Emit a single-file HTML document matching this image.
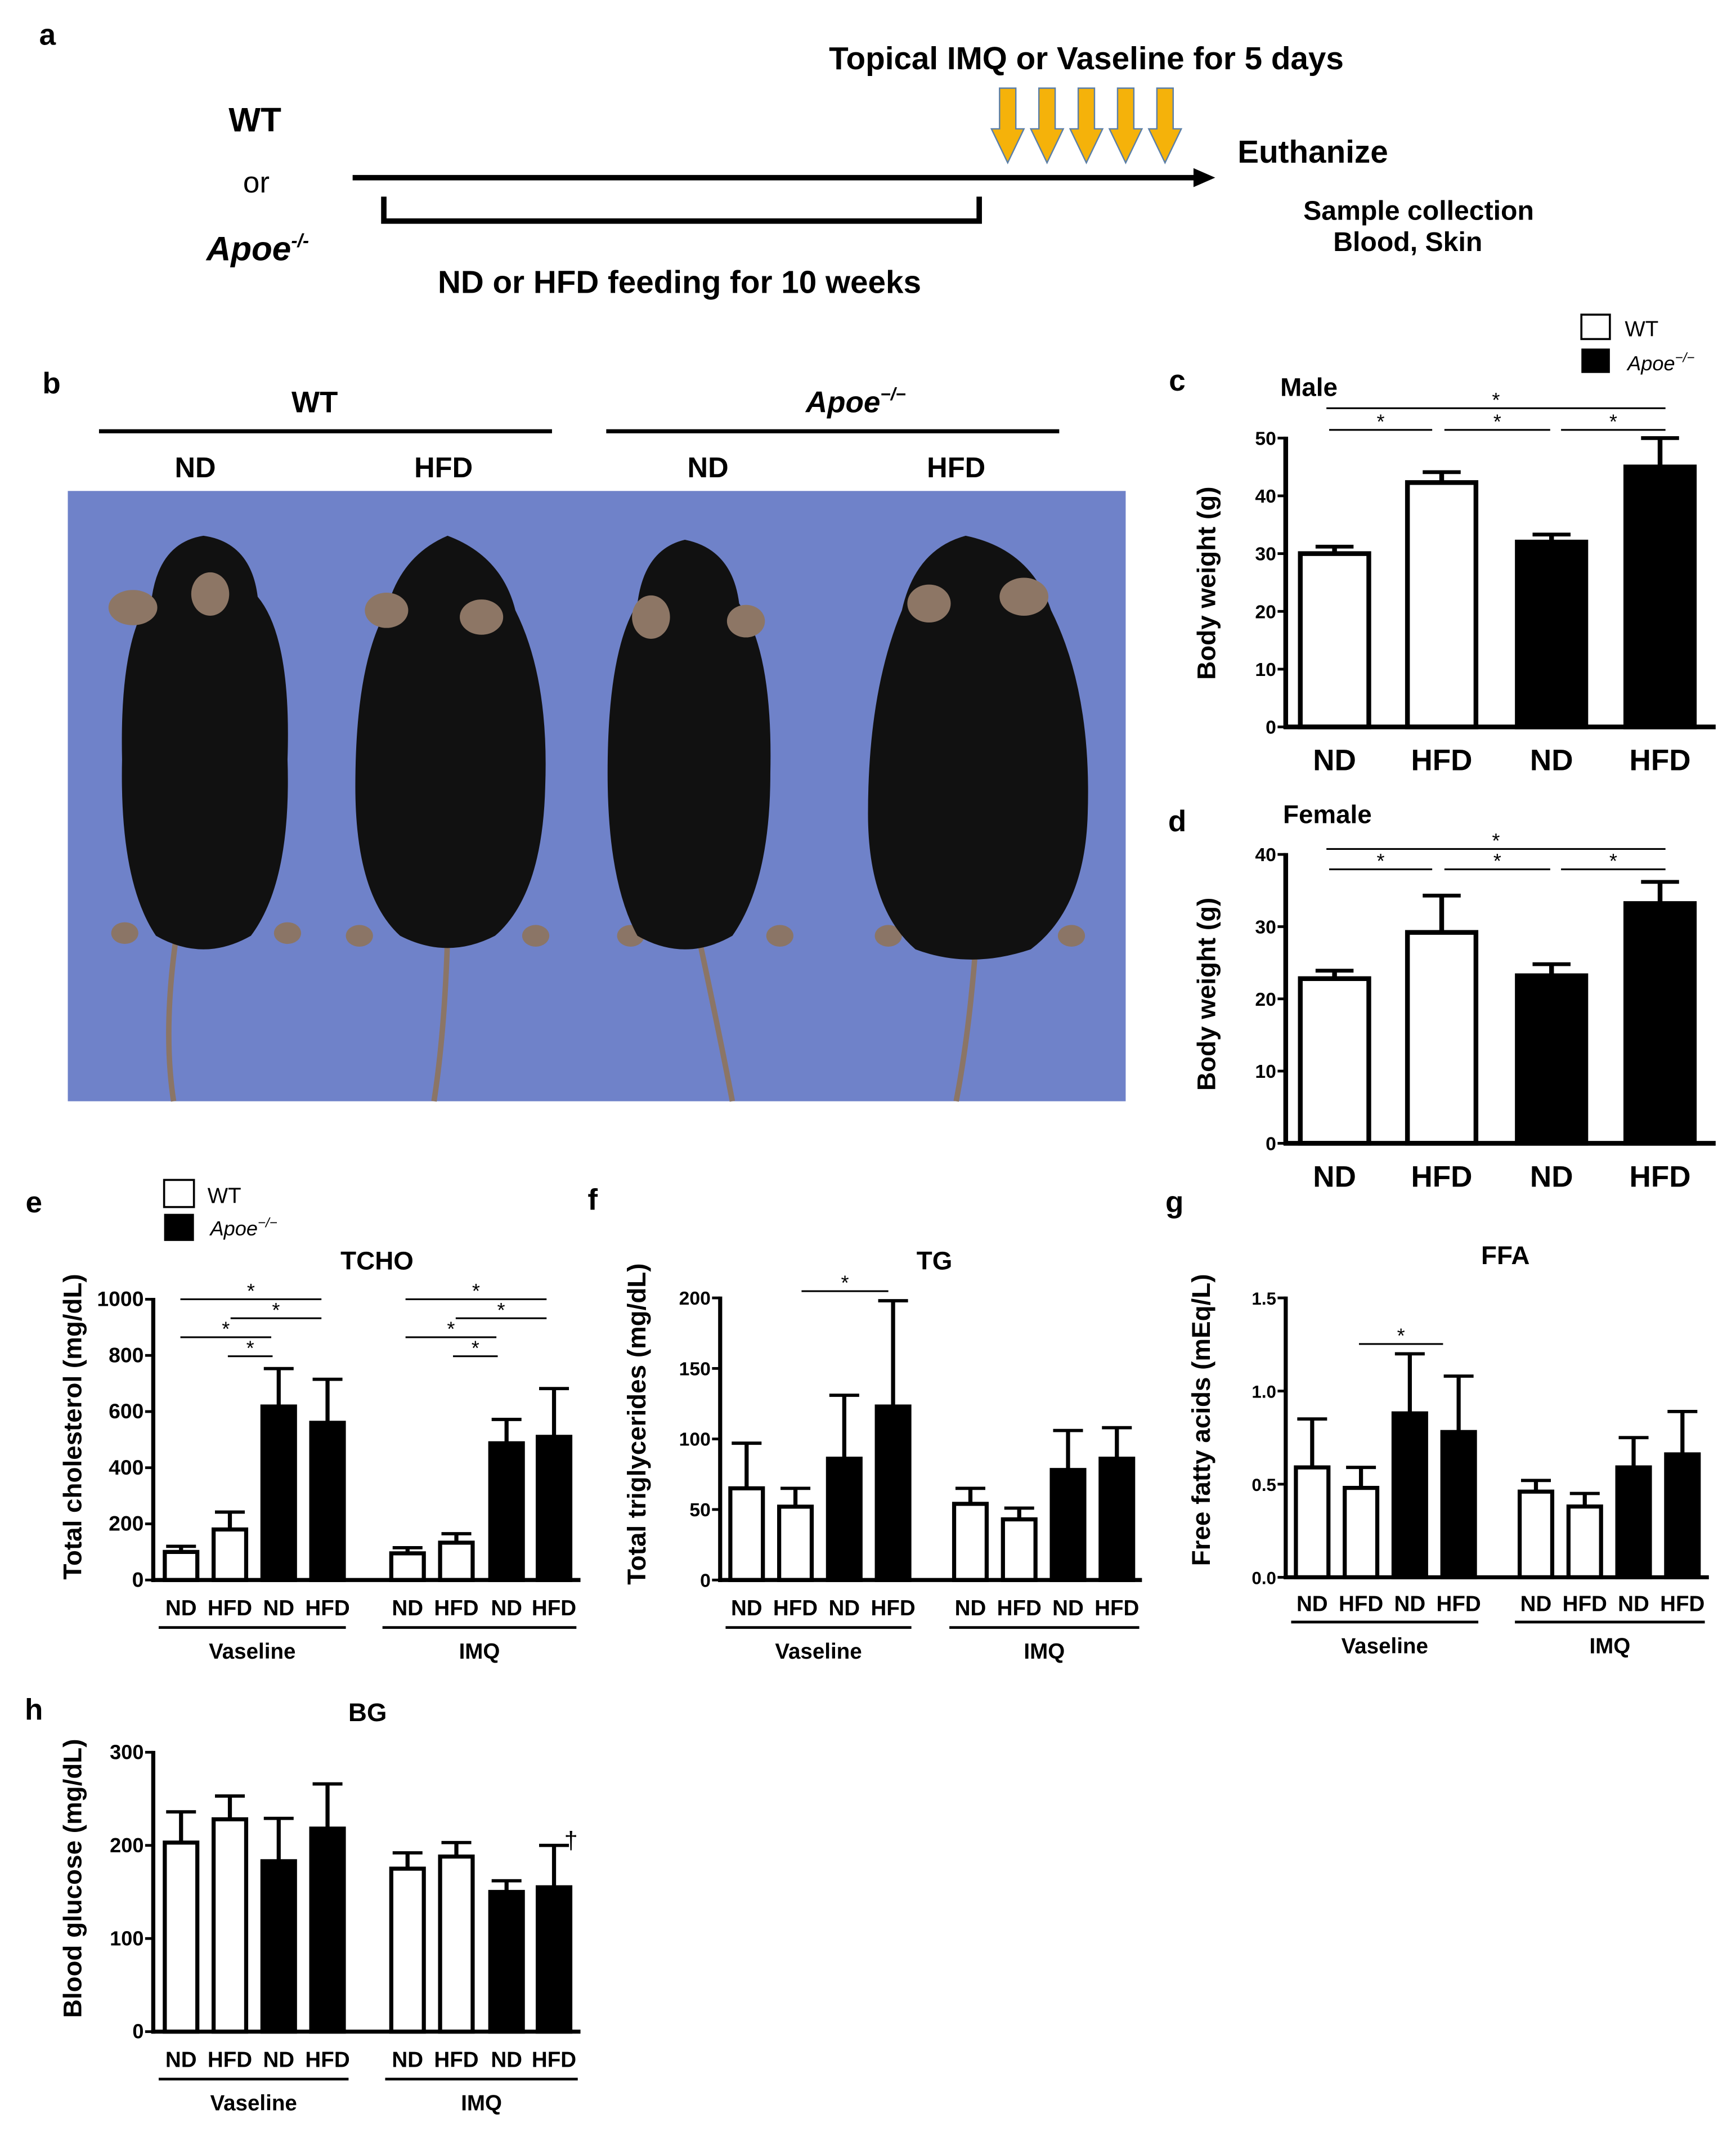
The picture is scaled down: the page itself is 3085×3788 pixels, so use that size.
<!DOCTYPE html>
<html><head><meta charset="utf-8">
<style>
html,body{margin:0;padding:0;background:#fff;}
svg{display:block;font-family:"Liberation Sans",Arial,sans-serif;}
</style></head>
<body>
<svg id="fig" width="3085" height="3788" viewBox="0 0 1280 1572" preserveAspectRatio="none" xmlns="http://www.w3.org/2000/svg">
<rect width="1280" height="1572" fill="#fff"/>
<!-- Panel a -->
<g font-weight="bold">
<text x="35" y="33" font-size="22" text-anchor="middle">a</text>
<text x="188" y="97" font-size="25" text-anchor="middle">WT</text>
<text x="189" y="142" font-size="22" font-weight="normal" text-anchor="middle">or</text>
<text x="190" y="192" font-size="25" font-style="italic" text-anchor="middle">Apoe<tspan font-size="14" dy="-10">-/-</tspan></text>
<line x1="260" y1="131" x2="882" y2="131" stroke="#000" stroke-width="4"/>
<polygon points="880,124 896,131 880,138" fill="#000"/>
<polyline points="283,145 283,163 722,163 722,145" fill="none" stroke="#000" stroke-width="4"/>
<text x="501" y="216" font-size="23.5" text-anchor="middle">ND or HFD feeding for 10 weeks</text>
<text x="801" y="51" font-size="23.5" text-anchor="middle">Topical IMQ or Vaseline for 5 days</text>
<g id="arrows"></g>
<text x="968" y="120" font-size="23.5" text-anchor="middle">Euthanize</text>
<text x="1046" y="162" font-size="20" text-anchor="middle">Sample collection</text>
<text x="1038" y="185" font-size="20" text-anchor="middle">Blood, Skin</text>
</g>
<!-- Panel b -->
<g font-weight="bold">
<text x="38" y="290" font-size="22" text-anchor="middle">b</text>
<text x="232" y="304" font-size="22" text-anchor="middle">WT</text>
<line x1="73" y1="318" x2="407" y2="318" stroke="#000" stroke-width="3"/>
<text x="631" y="304" font-size="22" font-style="italic" text-anchor="middle">Apoe<tspan font-size="13" dy="-9">−/−</tspan></text>
<line x1="447" y1="318" x2="781" y2="318" stroke="#000" stroke-width="3"/>
<text x="144" y="352" font-size="21" text-anchor="middle">ND</text>
<text x="327" y="352" font-size="21" text-anchor="middle">HFD</text>
<text x="522" y="352" font-size="21" text-anchor="middle">ND</text>
<text x="705" y="352" font-size="21" text-anchor="middle">HFD</text>
<rect x="50" y="362" width="780" height="450" fill="#6f82c9"/>
<g fill="none" stroke="#8b7566" stroke-width="4">
<path d="M130 690 Q120 760 128 812"/><path d="M330 690 Q328 760 320 812"/>
<path d="M515 690 Q530 760 540 812"/><path d="M720 690 Q715 760 705 812"/>
</g>
<g fill="#8b7566">
<ellipse cx="92" cy="688" rx="10" ry="8"/><ellipse cx="212" cy="688" rx="10" ry="8"/>
<ellipse cx="265" cy="690" rx="10" ry="8"/><ellipse cx="395" cy="690" rx="10" ry="8"/>
<ellipse cx="465" cy="690" rx="10" ry="8"/><ellipse cx="575" cy="690" rx="10" ry="8"/>
<ellipse cx="655" cy="690" rx="10" ry="8"/><ellipse cx="790" cy="690" rx="10" ry="8"/>
</g>
<g fill="#111">
<path d="M150 395 Q185 400 190 440 Q215 470 212 560 Q215 650 185 690 Q150 710 115 690 Q88 650 90 560 Q88 470 112 440 Q118 400 150 395Z"/>
<path d="M330 395 Q370 410 380 450 Q405 500 402 580 Q400 660 365 690 Q330 708 295 690 Q262 660 262 580 Q262 490 285 450 Q295 410 330 395Z"/>
<path d="M505 398 Q540 405 545 445 Q570 480 568 570 Q568 650 540 690 Q505 710 470 690 Q448 650 448 570 Q448 480 470 445 Q475 405 505 398Z"/>
<path d="M712 395 Q760 405 775 450 Q805 510 802 600 Q800 670 760 700 Q715 715 675 700 Q640 670 640 600 Q640 510 665 450 Q675 405 712 395Z"/>
</g>
<g fill="#8d7665">
<ellipse cx="98" cy="448" rx="18" ry="13"/><ellipse cx="155" cy="438" rx="14" ry="16"/>
<ellipse cx="285" cy="450" rx="16" ry="13"/><ellipse cx="355" cy="455" rx="16" ry="13"/>
<ellipse cx="480" cy="455" rx="14" ry="16"/><ellipse cx="550" cy="458" rx="14" ry="12"/>
<ellipse cx="685" cy="445" rx="16" ry="14"/><ellipse cx="755" cy="440" rx="18" ry="14"/>
</g>
</g>
<!-- legend top right -->
<g>
<rect x="1166" y="232" width="21" height="18" fill="#fff" stroke="#000" stroke-width="1.5"/>
<rect x="1166" y="257" width="21" height="18" fill="#000"/>
<text x="1198" y="248" font-size="16">WT</text>
<text x="1200" y="273" font-size="15" font-style="italic">Apoe<tspan font-size="10" dy="-6">−/−</tspan></text>
</g>
<!-- legend e -->
<g>
<rect x="121" y="870" width="22" height="20" fill="#fff" stroke="#000" stroke-width="1.5"/>
<rect x="121" y="895" width="22" height="20" fill="#000"/>
<text x="153" y="887" font-size="16">WT</text>
<text x="155" y="911" font-size="15" font-style="italic">Apoe<tspan font-size="10" dy="-6">−/−</tspan></text>
</g>
<g id="charts"></g>
</svg>
<script>
const NS="http://www.w3.org/2000/svg";
const svg=document.getElementById('fig');
function mk(tag,attrs,parent,txt){const e=document.createElementNS(NS,tag);for(const k in attrs)e.setAttribute(k,attrs[k]);if(txt!==undefined)e.textContent=txt;(parent||svg).appendChild(e);return e;}

// orange arrows
const arrowXs=[743,772,801,830,859];
const ag=document.getElementById('arrows');
arrowXs.forEach(x=>{const p=mk('polygon',{points:`${x-6},65 ${x+6},65 ${x+6},95 ${x+12},95 ${x},120 ${x-12},95 ${x-6},95`,fill:'#f5b20a',stroke:'#5b7fa8','stroke-width':1},ag);

});

// ---- data ----
const maleCats=["ND","HFD","ND","HFD"];
const maleVals=[30,42.3,32,45];
const maleErr=[1.2,1.8,1.3,5];
const maleTicks=[0,10,20,30,40,50];
const femaleVals=[22.8,29.2,23.2,33.2];
const femaleErr=[1.1,5.1,1.6,3];
const femaleTicks=[0,10,20,30,40];
const groupCats=["ND","HFD","ND","HFD","ND","HFD","ND","HFD"];
const tchoVals=[100,180,618,560,95,133,487,510];
const tchoErr=[20,62,135,155,20,32,85,172];
const tchoTicks=[0,200,400,600,800,1000];
const tgVals=[65,52,86,123,54,43,78,86];
const tgErr=[32,13,45,75,11,8,28,22];
const tgTicks=[0,50,100,150,200];
const ffaVals=[0.59,0.48,0.88,0.78,0.46,0.38,0.59,0.66];
const ffaErr=[0.26,0.11,0.32,0.30,0.06,0.07,0.16,0.23];
const ffaTicks=["0.0","0.5","1.0","1.5"];
const bgVals=[203,228,183,218,175,188,150,155];
const bgErr=[33,25,46,48,17,15,12,45];
const bgTicks=[0,100,200,300];
const fillsCD=["#fff","#fff","#000","#000"];
const fills8=["#fff","#fff","#000","#000","#fff","#fff","#000","#000"];

const root=document.getElementById('charts');
function chart(o){
  const g=mk('g',{},root);
  
  
  const tmax=parseFloat(o.ticks[o.ticks.length-1]);
  const y=v=>o.y0-(v/tmax)*(o.y0-o.ytop);
  o.vals.forEach((v,i)=>{
    const x=o.bx[i];
    const top=y(v), e=y(v+o.err[i]);
    mk('line',{x1:x+o.bw/2,y1:top,x2:x+o.bw/2,y2:e,stroke:'#000','stroke-width':o.sw},g);
    mk('line',{x1:x+o.bw/2-o.cap,y1:e,x2:x+o.bw/2+o.cap,y2:e,stroke:'#000','stroke-width':o.sw*0.8},g);
    const r=mk('rect',{x:x+o.sw/2,y:top,width:o.bw-o.sw,height:o.y0-top,fill:o.fills[i],stroke:'#000','stroke-width':o.sw},g);
    
    
  });
  mk('line',{x1:o.ax,y1:o.ytop-1,x2:o.ax,y2:o.y0+1.5,stroke:'#000','stroke-width':o.sw},g);
  mk('line',{x1:o.ax-1.5,y1:o.y0,x2:o.axEnd,y2:o.y0,stroke:'#000','stroke-width':o.sw},g);
  o.ticks.forEach(t=>{
    const yy=y(parseFloat(t));
    mk('line',{x1:o.ax-6,y1:yy,x2:o.ax,y2:yy,stroke:'#000','stroke-width':2},g);
    const tx=mk('text',{x:o.ax-7,y:yy+5,'font-size':o.tfs,'font-weight':'bold','text-anchor':'end'},g,String(t));
    
    
  });
  o.cats.forEach((c,i)=>{
    const tx=mk('text',{x:o.bx[i]+o.bw/2,y:o.xly,'font-size':o.xfs,'font-weight':'bold','text-anchor':'middle'},g,c);
    
    
  });
  const yt=mk('text',{x:0,y:0,'font-size':o.yfs,'font-weight':'bold','text-anchor':'middle',transform:`translate(${o.ytx},${o.yty}) rotate(-90)`},g,o.ytitle);
  
  
  if(o.title){const t=mk('text',{x:o.title[1],y:o.title[2],'font-size':19,'font-weight':'bold','text-anchor':o.title[3]||'middle'},g,o.title[0]);
    
    }
  (o.sig||[]).forEach(s=>{
    mk('line',{x1:s[0],y1:s[2],x2:s[1],y2:s[2],stroke:'#000','stroke-width':1.3},g);
    const st=mk('text',{x:(s[0]+s[1])/2,y:s[2]-1,'font-size':15,'text-anchor':'middle'},g,'*');
    
    
  });
  (o.groups||[]).forEach(gr=>{
    mk('line',{x1:gr[1],y1:gr[3],x2:gr[2],y2:gr[3],stroke:'#000','stroke-width':2},g);
    const t=mk('text',{x:(gr[1]+gr[2])/2,y:gr[3]+23,'font-size':16,'font-weight':'bold','text-anchor':'middle'},g,gr[0]);
    
    
  });
  return g;
}
const bxCD=[957,1036,1117,1197];
chart({name:'body-weight-male-chart',vals:maleVals,err:maleErr,cats:maleCats,ticks:maleTicks,fills:fillsCD,bx:bxCD,bw:54,cap:14,sw:3.5,
  ax:948,axEnd:1265,y0:536,ytop:323,tfs:14,xfs:22,xly:568,yfs:19,ytx:896,yty:430,ytitle:'Body weight (g)',title:['Male',944,292,'start'],
  sig:[[978,1228,301],[980,1056,317],[1065,1143,317],[1151,1228,317]]});
chart({name:'body-weight-female-chart',vals:femaleVals,err:femaleErr,cats:maleCats,ticks:femaleTicks,fills:fillsCD,bx:bxCD,bw:54,cap:14,sw:3.5,
  ax:948,axEnd:1265,y0:843,ytop:630,tfs:14,xfs:22,xly:875,yfs:19,ytx:896,yty:733,ytitle:'Body weight (g)',title:['Female',946,607,'start'],
  sig:[[978,1228,626],[980,1056,641],[1065,1143,641],[1151,1228,641]]});
const bxE=[120,156,192,228,287,323,360,395];
chart({name:'total-cholesterol-chart',vals:tchoVals,err:tchoErr,cats:groupCats,ticks:tchoTicks,fills:fills8,bx:bxE,bw:27,cap:11,sw:3,
  ax:113,axEnd:428,y0:1165,ytop:958,tfs:15.5,xfs:16,xly:1191,yfs:19,ytx:60,yty:1052,ytitle:'Total cholesterol (mg/dL)',title:['TCHO',278,936],
  sig:[[133,237,958],[170,237,972],[133,200,986],[168,201,1000],[299,403,958],[336,403,972],[299,366,986],[334,367,1000]],
  groups:[['Vaseline',117,255,1200],['IMQ',282,425,1200]]});
const bxF=[537,573,609,645,702,738,774,810];
chart({name:'triglycerides-chart',vals:tgVals,err:tgErr,cats:groupCats,ticks:tgTicks,fills:fills8,bx:bxF,bw:27,cap:11,sw:3,
  ax:531,axEnd:842,y0:1165,ytop:957,tfs:14,xfs:16,xly:1191,yfs:19,ytx:476,yty:1050,ytitle:'Total triglycerides (mg/dL)',title:['TG',689,936],
  sig:[[591,655,952]],groups:[['Vaseline',535,672,1200],['IMQ',700,840,1200]]});
const bxG=[954,990,1026,1062,1119,1155,1191,1227];
chart({name:'free-fatty-acids-chart',vals:ffaVals,err:ffaErr,cats:groupCats,ticks:ffaTicks,fills:fills8,bx:bxG,bw:27,cap:11,sw:3,
  ax:948,axEnd:1260,y0:1163,ytop:957,tfs:13,xfs:16,xly:1188,yfs:19,ytx:892,yty:1047,ytitle:'Free fatty acids (mEq/L)',title:['FFA',1110,932],
  sig:[[1002,1064,991]],groups:[['Vaseline',952,1090,1196],['IMQ',1117,1257,1196]]});
chart({name:'blood-glucose-chart',vals:bgVals,err:bgErr,cats:groupCats,ticks:bgTicks,fills:fills8,bx:bxE,bw:27,cap:11,sw:3,
  ax:113,axEnd:428,y0:1498,ytop:1292,tfs:15,xfs:16,xly:1524,yfs:19,ytx:60,yty:1385,ytitle:'Blood glucose (mg/dL)',title:['BG',271,1269],
  groups:[['Vaseline',117,257,1533],['IMQ',284,426,1533]]});
const dag=mk('text',{x:421,y:1363,'font-size':18,'text-anchor':'middle'},svg,'†');



const letters=[['c',868,288],['d',868,613],['e',25,894],['f',437,892],['g',866,894],['h',25,1268]];
letters.forEach(l=>{const t=mk('text',{x:l[1],y:l[2],'font-size':22,'font-weight':'bold','text-anchor':'middle'},svg,l[0]);

});
</script>
</body></html>
